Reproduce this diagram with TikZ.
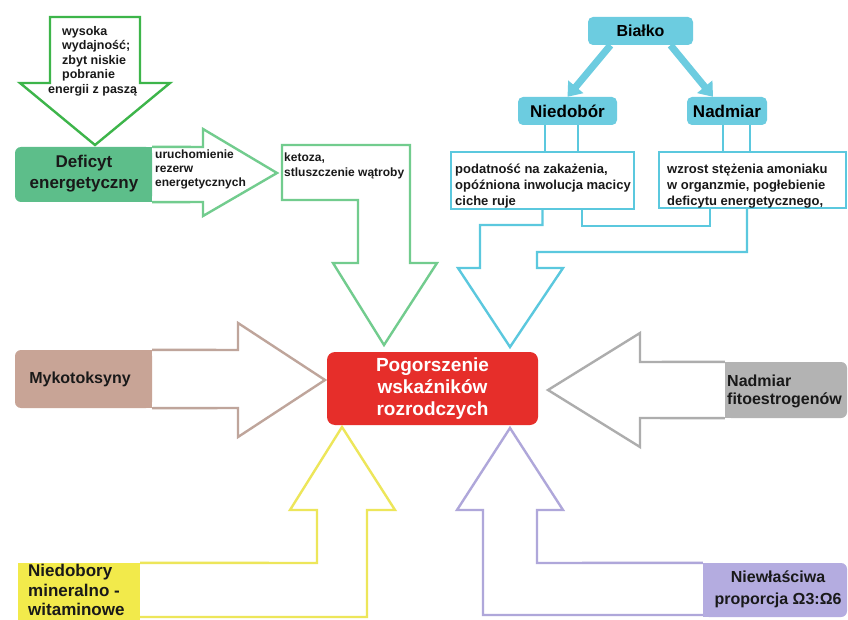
\documentclass[tikz,border=0pt]{standalone}
\usepackage{fontspec}
\setmainfont{Liberation Sans}
\usetikzlibrary{arrows.meta,calc}
\newcommand{\myfs}[2]{\fontsize{#1}{#2}\selectfont}
\definecolor{topgreen}{HTML}{3DB54A}
\definecolor{defgreen}{HTML}{5DBE8A}
\definecolor{ltgreen}{HTML}{72CC8E}
\definecolor{bline}{HTML}{5BC8DE}
\definecolor{bfill}{HTML}{6CCCE0}
\definecolor{redbox}{HTML}{E62E2A}
\definecolor{brfill}{HTML}{C8A496}
\definecolor{brline}{HTML}{BFA59B}
\definecolor{grfill}{HTML}{B3B3B3}
\definecolor{grline}{HTML}{ADADAD}
\definecolor{yefill}{HTML}{F2EA4B}
\definecolor{yeline}{HTML}{EDE65A}
\definecolor{pufill}{HTML}{B4ACE0}
\definecolor{puline}{HTML}{AFA7DA}
\tikzset{
  outl/.style={line width=2.4pt, line join=miter},
  txt/.style={inner sep=0pt, anchor=north west, align=left, font=\bfseries, text=black!90},
  bluebox/.style={fill=bfill, rounded corners=5pt, inner sep=0pt, font=\bfseries\myfs{17}{20}},
  fxbox/.style={draw=bline, line width=2pt, fill=white, inner sep=0pt},
}
\begin{document}
\begin{tikzpicture}[x=1pt,y=-1pt]
\useasboundingbox (0,0) rectangle (848,620);
\fill[white] (0,0) rectangle (848,620);

% ---------------- green: top arrow ----------------
\draw[outl, draw=topgreen, fill=white] (50,17) -- (140,17) -- (140,83) -- (170,83) -- (95,145) -- (20,83) -- (50,83) -- cycle;
\node[txt, font=\bfseries\myfs{12.5}{14.5}] (wys) at (62,26) {wysoka\\wydajność;\\zbyt niskie\\pobranie\\\hspace*{-14pt}energii z paszą};

% Deficyt box + arrow
\node[fill=defgreen, rounded corners=6pt, minimum width=137pt, minimum height=55pt, inner sep=0pt] (deficyt) at (83.5,174.5) {};
\fill[defgreen] (deficyt.north) rectangle (deficyt.south east);
\node[inner sep=0pt, align=center, font=\bfseries\myfs{17}{21}, text=black!90] (deftxt) at (84,174) {Deficyt\\energetyczny};
\draw[outl, draw=ltgreen] (deficyt.north east) -- (203,147) -- (203,129) -- (277,173) -- (203,216) -- (203,202) -- (deficyt.south east);
\node[txt, font=\bfseries\myfs{12}{14}] (uru) at (155,149.5) {uruchomienie\\rezerw\\energetycznych};

% Ketoza shape arrow
\draw[outl, draw=ltgreen] (282,145) -- (410,145) -- (410,263) -- (437,263) -- (384,345) -- (333,263) -- (358,263) -- (358,200) -- (282,200) -- cycle;
\node[txt, font=\bfseries\myfs{12}{15}] (keto) at (284,152.5) {ketoza,\\stluszczenie wątroby};

% ---------------- red centre ----------------
\node[fill=redbox, rounded corners=8pt, minimum width=211pt, minimum height=73pt, inner sep=0pt] (pog) at (432.5,388.5) {};
\node[inner sep=0pt, align=center, text=white, font=\bfseries\myfs{19}{22}] (pogtxt) at (432.5,389) {Pogorszenie\\wskaźników\\rozrodczych};

% ---------------- blue part ----------------
\node[bluebox, minimum width=105pt, minimum height=28pt, font=\bfseries\myfs{16}{19}] (bialko) at (640.5,31) {Białko};
\node[bluebox, minimum width=99pt, minimum height=28pt] (niedobor) at (567.5,111) {Niedobór};
\node[bluebox, minimum width=80pt, minimum height=28pt] (nadmiar) at (727,111) {Nadmiar};
\draw[line width=7pt, bfill, -{Triangle[length=13pt,width=19pt]}] ([xshift=-30pt]bialko.south) -- (niedobor.north);
\draw[line width=7pt, bfill, -{Triangle[length=13pt,width=19pt]}] ([xshift=30pt]bialko.south) -- ([xshift=-14pt]nadmiar.north);

\node[fxbox, minimum width=183pt, minimum height=57pt] (nfx) at (542.5,180.5) {};
\node[fxbox, minimum width=187pt, minimum height=56pt] (nax) at (752.5,180) {};
\node[txt, font=\bfseries\myfs{13}{16}] (nfxtxt) at (455,164) {podatność na zakażenia,\\opóźniona inwolucja macicy\\ciche ruje};
\node[txt, font=\bfseries\myfs{13}{16}] (naxtxt) at (667,164) {wzrost stężenia amoniaku\\w organzmie, pogłebienie\\deficytu energetycznego,};

\draw[line width=2pt, bline] ([xshift=-22.5pt]niedobor.south) -- ([xshift=-22.5pt]niedobor.south |- nfx.north);
\draw[line width=2pt, bline] ([xshift=10.5pt]niedobor.south) -- ([xshift=10.5pt]niedobor.south |- nfx.north);
\draw[line width=2pt, bline] ([xshift=-4pt]nadmiar.south) -- ([xshift=-4pt]nadmiar.south |- nax.north);
\draw[line width=2pt, bline] ([xshift=23pt]nadmiar.south) -- ([xshift=23pt]nadmiar.south |- nax.north);

\draw[outl, draw=bline] (nfx.south) |- (480,225) -- (480,268) -- (458,268) -- (510,347) -- (563,268) -- (537,268) -- (537,252) -| ([xshift=-5.5pt]nax.south);
\draw[outl, draw=bline] ([xshift=39.5pt]nfx.south) -- ++(0,16) -| ([xshift=-42.5pt]nax.south);

% ---------------- Mykotoksyny ----------------
\node[fill=brfill, rounded corners=6pt, minimum width=137pt, minimum height=58pt, inner sep=0pt] (myko) at (83.5,379) {};
\fill[brfill] (myko.north) rectangle (myko.south east);
\node[inner sep=0pt, font=\bfseries\myfs{16}{19}, text=black!90] (mykotxt) at (80,379) {Mykotoksyny};
\draw[outl, draw=brline] (myko.north east) -- (238,350) -- (238,323) -- (325,380) -- (238,437) -- (238,408) -- (myko.south east);

% ---------------- Fitoestrogeny ----------------
\node[fill=grfill, rounded corners=6pt, minimum width=122pt, minimum height=56pt, inner sep=0pt] (fito) at (786,390) {};
\fill[grfill] (fito.north west) rectangle (fito.south);
\node[txt, font=\bfseries\myfs{16}{18}] (fitotxt) at (727,374.6) {Nadmiar\\fitoestrogenów};
\draw[outl, draw=grline] (fito.north west) -- (640,362) -- (640,333) -- (548,390) -- (640,447) -- (640,418) -- (fito.south west);

% ---------------- Yellow ----------------
\node[fill=yefill, minimum width=122pt, minimum height=57pt, inner sep=0pt] (niedob) at (79,591.5) {};
\node[txt, font=\bfseries\myfs{17}{19.5}] (niedobtxt) at (28,564) {Niedobory\\mineralno -\\witaminowe};
\draw[outl, draw=yeline] (niedob.north east) -- (317,563) -- (317,510) -- (290,510) -- (342,427) -- (395,510) -- (367,510) -- (367,617) -- (140,617);

% ---------------- Purple ----------------
\node[fill=pufill, rounded corners=6pt, minimum width=144pt, minimum height=54pt, inner sep=0pt] (omega) at (775,590) {};
\fill[pufill] (omega.north west) rectangle (omega.south);
\node[inner sep=0pt, align=center, font=\bfseries\myfs{16}{22}, text=black!90] (omegatxt) at (778,589) {Niewłaściwa\\proporcja Ω3:Ω6};
\draw[outl, draw=puline] (omega.north west) -- (537,563) -- (537,510) -- (563,510) -- (510,428) -- (457,510) -- (483,510) -- (483,615) -- (703,615);
\end{tikzpicture}
\end{document}
